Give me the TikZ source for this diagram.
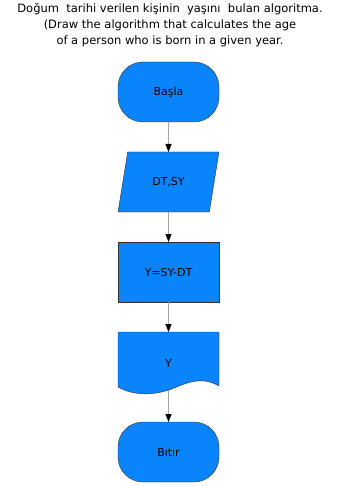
\documentclass[tikz,border=0pt]{standalone}
\usepackage{fontspec}
\setmainfont{DejaVu Sans}
\usetikzlibrary{shapes.geometric,arrows.meta}
\definecolor{akis}{HTML}{0A84FA}
\definecolor{kenar}{HTML}{333333}
\tikzstyle{uc}=[rectangle,rounded corners=25pt,draw=kenar,fill=akis,minimum width=101pt,minimum height=60pt,outer sep=0pt,font=\fontsize{11}{13}\selectfont]
\tikzstyle{girdi}=[trapezium,trapezium left angle=74,trapezium right angle=106,trapezium stretches=true,draw=kenar,fill=akis,minimum width=101pt,minimum height=60pt,outer sep=0pt,font=\fontsize{11}{13}\selectfont]
\tikzstyle{islem}=[rectangle,draw=kenar,fill=akis,minimum width=101pt,minimum height=60pt,outer sep=0pt,font=\fontsize{11}{13}\selectfont]
\tikzstyle{belge}=[rectangle,minimum width=101pt,minimum height=59pt,outer sep=0pt,font=\fontsize{11}{13}\selectfont]
\tikzstyle{ok}=[draw=gray!70,line width=0.9pt,-{Triangle[black,width=6pt,length=8pt]}]

\begin{document}
\begin{tikzpicture}[x=1pt,y=-1pt]
    \useasboundingbox (0,0) rectangle (340,486);
    \node[align=center,font=\fontsize{11.5}{16}\selectfont] (baslik) at (170,25)
        {Doğum \ tarihi verilen kişinin \ yaşını \ bulan algoritma.\\
         (Draw the algorithm that calculates the age\\
         of a person who is born in a given year.};

    \node[uc]    (basla) at (168.5,92)  {Başla};
    \node[girdi] (oku)   at (168.5,182) {DT,SY};
    \node[islem] (hesap) at (168.5,272) {Y=SY-DT};
    % output box with a wavy bottom
    \node[belge] (yaz)   at (168.5,361.5) {};
    \draw[draw=kenar,fill=akis] (yaz.north west) -- (yaz.north east) -- (219,386)
        .. controls (200,375) and (185,384) .. (169,390)
        .. controls (150,396) and (132,395) .. (118,387) -- cycle;
    \node[font=\fontsize{11}{13}\selectfont] (yazi) at (168.5,363) {Y};
    \node[uc]    (bitir) at (168.5,452) {Bıtır};

    \foreach \from/\to in {basla/oku,oku/hesap,hesap/yaz,yaz/bitir}
    \draw[ok] (\from) -- (\to);
\end{tikzpicture}
\end{document}
